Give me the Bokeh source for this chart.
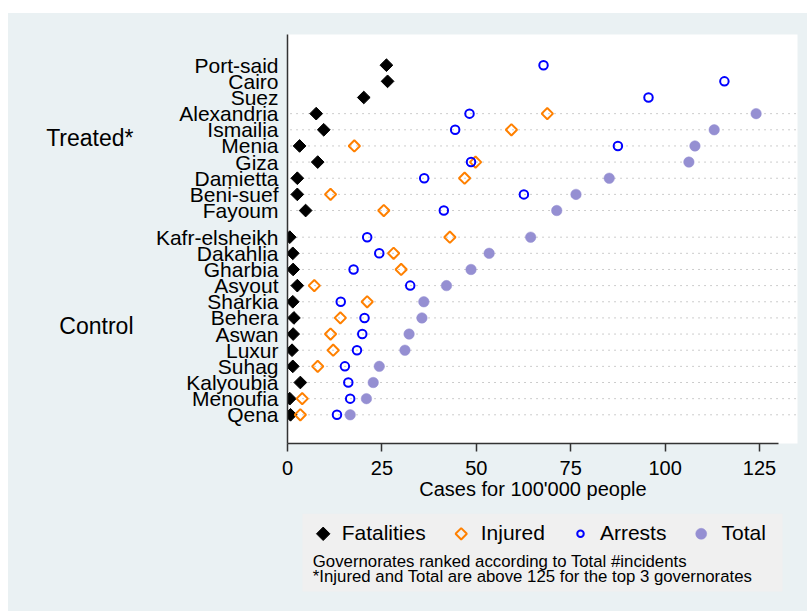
import numpy as np
from bokeh.plotting import figure
from bokeh.models import (Range1d, FixedTicker, Label, Legend, LegendItem, Spacer,
                          LinearAxis)
from bokeh.layouts import column, row
from bokeh.embed import file_html
from bokeh.resources import INLINE

# ---------------- data ----------------
treated = ["Port-said", "Cairo", "Suez", "Alexandria", "Ismailia", "Menia",
           "Giza", "Damietta", "Beni-suef", "Fayoum"]
control = ["Kafr-elsheikh", "Dakahlia", "Gharbia", "Asyout", "Sharkia", "Behera",
           "Aswan", "Luxur", "Suhag", "Kalyoubia", "Menoufia", "Qena"]

fatalities_treated = [26.2, 26.5, 20.2, 7.6, 9.6, 3.2, 8.0, 2.6, 2.6, 4.8]
injured_treated = [None, None, None, 68.8, 59.3, 17.7, 49.8, 46.9, 11.4, 25.5]
arrests_treated = [67.8, 115.7, 95.6, 48.2, 44.4, 87.5, 48.6, 36.2, 62.6, 41.4]
total_treated = [None, None, None, 124.1, 113.0, 107.9, 106.3, 85.2, 76.4, 71.3]

fatalities_control = [0.6, 1.4, 1.5, 2.6, 1.4, 1.7, 1.5, 1.2, 1.4, 3.4, 0.6, 0.8]
injured_control = [43.0, 28.1, 30.1, 7.1, 21.1, 14.0, 11.4, 12.1, 8.0, None, 3.9, 3.4]
arrests_control = [21.1, 24.3, 17.5, 32.5, 14.1, 20.4, 19.8, 18.4, 15.2, 16.1, 16.6, 13.1]
total_control = [64.4, 53.4, 48.6, 42.1, 36.1, 35.6, 32.2, 31.1, 24.3, 22.7, 20.9, 16.6]

x_ticks = [0, 25, 50, 75, 100, 125]
x_label = "Cases for 100'000 people"
group_labels = ["Treated*", "Control"]
series_names = ["Fatalities", "Injured", "Arrests", "Total"]
notes = ["Governorates ranked according to Total #incidents",
         "*Injured and Total are above 125 for the top 3 governorates"]

# ---------------- layout helpers ----------------
BG = "#eaf1f3"
FONT = "Liberation Sans"
TXT = "black"
C_FAT, C_INJ, C_ARR, C_TOT = "black", "#ff8000", "#0000ff", "#958fd2"
GROUP_GAP = 1.65

def arr(v):
    return np.array([np.nan if a is None else a for a in v], dtype=float)

n_c = len(control)
y_control = [float(n_c - i) for i in range(n_c)]
top_t = n_c + GROUP_GAP + len(treated) - 1
y_treated = [top_t - i for i in range(len(treated))]

names = treated + control
ys = y_treated + y_control
fat = np.concatenate([arr(fatalities_treated), arr(fatalities_control)])
inj = np.concatenate([arr(injured_treated), arr(injured_control)])
ars = np.concatenate([arr(arrests_treated), arr(arrests_control)])
tot = np.concatenate([arr(total_treated), arr(total_control)])
ys_arr = np.array(ys)

X_END = 135.06
AXIS_END = 130
p = figure(width=799, height=500,
           x_range=Range1d(0, X_END), y_range=Range1d(-0.777, 24.551),
           output_backend="svg", toolbar_location=None,
           min_border_left=279, min_border_right=10,
           min_border_top=21, min_border_bottom=70,
           background_fill_color="white", border_fill_color=BG,
           outline_line_color=None)
p.grid.visible = False

# dotted guide lines for rows with complete values
has_line = ~np.isnan(tot)
p.segment(x0=0.8, x1=X_END, y0=ys_arr[has_line], y1=ys_arr[has_line],
          line_color="#9a9a9a", line_width=1, line_dash="1 5")

p.scatter(fat, ys_arr, marker="square", angle=np.pi / 4, size=9,
          fill_color=C_FAT, line_color=C_FAT, line_width=1)
p.scatter(inj, ys_arr, marker="square", angle=np.pi / 4, size=8,
          fill_color=None, line_color=C_INJ, line_width=2)
p.scatter(ars, ys_arr, marker="circle", size=8.5,
          fill_color=None, line_color=C_ARR, line_width=2)
p.scatter(tot, ys_arr, marker="circle", size=10.5,
          fill_color=C_TOT, line_color=C_TOT, line_width=0.5)

# x axis
xa = p.xaxis[0]
xa.ticker = FixedTicker(ticks=x_ticks)
xa.bounds = (0, AXIS_END)
xa.major_label_text_font = FONT
xa.major_label_text_font_size = "20px"
xa.major_label_text_color = TXT
xa.major_label_standoff = 9
xa.major_tick_out = 8
xa.major_tick_in = 0
xa.minor_tick_out = 0
xa.minor_tick_in = 0
xa.axis_line_color = "#333333"
xa.axis_line_width = 1.5
xa.major_tick_line_color = "#333333"
xa.major_tick_line_width = 1.5

# axis title, centred under the drawn axis line
xt = LinearAxis(ticker=FixedTicker(ticks=[AXIS_END / 2]),
                major_label_overrides={AXIS_END / 2: x_label},
                major_label_text_font=FONT, major_label_text_font_size="20px",
                major_label_text_color=TXT,
                major_label_standoff=0, axis_line_color=None,
                major_tick_out=0, major_tick_in=0, minor_tick_out=0, minor_tick_in=0)
p.add_layout(xt, "below")

# y axis with governorate names
ya = p.yaxis[0]
ya.ticker = FixedTicker(ticks=ys)
ya.major_label_overrides = {y: n for y, n in zip(ys, names)}
ya.major_label_text_font = FONT
ya.major_label_text_font_size = "21px"
ya.major_label_text_color = TXT
ya.major_label_standoff = 9
ya.major_tick_out = 0
ya.major_tick_in = 0
ya.minor_tick_out = 0
ya.minor_tick_in = 0
ya.axis_line_color = "#333333"
ya.axis_line_width = 1.5

# group labels as an outer axis
g_pos = [float(np.mean(y_treated)), float(np.mean(y_control))]
yg = LinearAxis(ticker=FixedTicker(ticks=g_pos),
                major_label_overrides={g: t for g, t in zip(g_pos, group_labels)},
                major_label_text_font=FONT, major_label_text_font_size="23px",
                major_label_text_color=TXT,
                major_label_standoff=19, axis_line_color=None,
                major_tick_out=0, major_tick_in=0, minor_tick_out=0, minor_tick_in=0)
p.add_layout(yg, "left")

# ---------------- legend strip ----------------
# frame is aligned with the main plot: data units equal page pixels here
p2 = figure(width=799, height=98, x_range=Range1d(287, 797), y_range=Range1d(611, 513),
            output_backend="svg", toolbar_location=None,
            x_axis_location=None, y_axis_location=None,
            min_border_left=279, min_border_right=10, min_border_top=0, min_border_bottom=0,
            background_fill_color=BG, border_fill_color=BG, outline_line_color=None)
p2.grid.visible = False
p2.quad(left=[302], right=[782], top=[513], bottom=[591],
        fill_color="#f0f0f0", line_color=None)

# legend keys (rotated squares need to be drawn as glyphs)
KEY_X = [322.7, 460.7, 580.0, 700.7]
KEY_Y = 533.3
p2.scatter([KEY_X[0]], [KEY_Y], marker="square", angle=np.pi / 4, size=9.5,
           fill_color=C_FAT, line_color=C_FAT, line_width=1)
p2.scatter([KEY_X[1]], [KEY_Y], marker="square", angle=np.pi / 4, size=8,
           fill_color=None, line_color=C_INJ, line_width=2)
p2.scatter([KEY_X[2]], [KEY_Y], marker="circle", size=6.5,
           fill_color=None, line_color=C_ARR, line_width=2)
p2.scatter([KEY_X[3]], [KEY_Y], marker="circle", size=11,
           fill_color=C_TOT, line_color=C_TOT, line_width=0.5)

nan = [np.nan]
dummies = [p2.scatter(x=nan, y=nan, marker="circle", size=1,
                      fill_alpha=0, line_alpha=0) for _ in series_names]

legend = Legend(items=[LegendItem(label=n, renderers=[r])
                       for n, r in zip(series_names, dummies)],
                orientation="horizontal", location=(25.7, 65.7),
                padding=0, margin=0, spacing=26, label_standoff=9,
                glyph_width=20, glyph_height=24, label_height=24,
                label_text_font=FONT, label_text_font_size="21px",
                label_text_color=TXT,
                background_fill_alpha=0, border_line_alpha=0)
p2.add_layout(legend)

for t, yb in zip(notes, [560.7, 576.0]):
    p2.add_layout(Label(x=312.3, y=yb, text=t, text_align="left",
                        text_baseline="alphabetic", text_font=FONT,
                        text_font_size="16.8px", text_color=TXT))

inner = column(p, p2, styles={"background-color": BG})
layout = column(Spacer(width=807, height=13),
                row(Spacer(width=8, height=598), inner))
open("out.html", "w").write(file_html(layout, INLINE))
